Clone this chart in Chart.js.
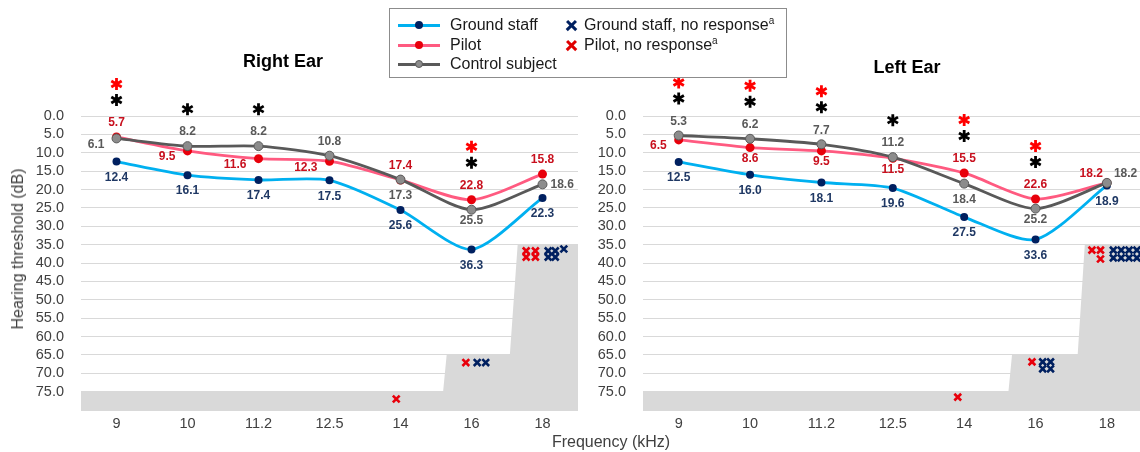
<!DOCTYPE html>
<html>
<head>
<meta charset="utf-8">
<script src="https://cdn.jsdelivr.net/npm/chart.js@4/dist/chart.umd.min.js"></script>
<style>
  html, body { margin: 0; padding: 0; background: #fff; overflow: hidden; }
  body { width: 1140px; height: 452px; position: relative; font-family: "Liberation Sans", Arial, sans-serif; }
  canvas { position: absolute; top: 0; }
  #cvRight { left: 0; }
  #cvLeft { left: 590px; }
  .ptitle { position: absolute; font-weight: bold; font-size: 18px; color: #000; transform: translate(-50%, -50%); white-space: nowrap; }
  .axtitle { position: absolute; font-size: 16px; color: #404040; white-space: nowrap; transform: translate(-50%, -50%); }
  #ytitle { transform: translate(-50%, -50%) rotate(-90deg); }
  #legend { position: absolute; left: 389px; top: 8px; width: 396px; height: 68px; border: 1px solid #8c8c8c; background: #fff; }
  #legend .ln { position: absolute; left: 8px; width: 42px; height: 2.5px; }
  #legend .dot { position: absolute; left: 25px; width: 8px; height: 8px; border-radius: 50%; box-sizing: border-box; }
  #legend .txt { position: absolute; font-size: 16px; line-height: 18px; color: #1a1a1a; white-space: nowrap; }
  #legend .txt sup { font-size: 10px; vertical-align: 6px; line-height: 0; }
  #legend .xm { position: absolute; left: 176px; width: 11px; height: 11px; }
  #legend .xm::before, #legend .xm::after { content: ""; position: absolute; left: -1px; top: 4px; width: 13px; height: 3.4px; background: currentColor; }
  #legend .xm::before { transform: rotate(45deg); }
  #legend .xm::after { transform: rotate(-45deg); }
</style>
</head>
<body>
<canvas id="cvRight" width="590" height="452"></canvas>
<canvas id="cvLeft" width="560" height="452"></canvas>

<div class="ptitle" style="left:283px; top:61px;">Right Ear</div>
<div class="ptitle" style="left:907px; top:67px;">Left Ear</div>
<div class="axtitle" id="ytitle" style="left:18px; top:249px;">Hearing threshold (dB)</div>
<div class="axtitle" style="left:611px; top:442px;">Frequency (kHz)</div>

<div id="legend">
  <span class="ln" style="top:15px; background:#00B0F0"></span>
  <span class="dot" style="top:12px; background:#002060"></span>
  <span class="txt" style="left:60px; top:7px;">Ground staff</span>
  <span class="ln" style="top:35px; background:#FF5A80"></span>
  <span class="dot" style="top:32px; background:#E8000B"></span>
  <span class="txt" style="left:60px; top:27px;">Pilot</span>
  <span class="ln" style="top:54px; background:#595959"></span>
  <span class="dot" style="top:51px; background:#8C8C8C; border:1px solid #595959"></span>
  <span class="txt" style="left:60px; top:46px;">Control subject</span>
  <span class="xm" style="top:11px; color:#002060"></span>
  <span class="txt" style="left:194px; top:7px;">Ground staff, no response<sup>a</sup></span>
  <span class="xm" style="top:31px; color:#E00000"></span>
  <span class="txt" style="left:194px; top:27px;">Pilot, no response<sup>a</sup></span>
</div>

<script>
// Test frequencies (kHz), one category each
const frequencies = ['9', '10', '11.2', '12.5', '14', '16', '18'];

// Mean hearing thresholds (dB), right ear
const rightGround  = [12.4, 16.1, 17.4, 17.5, 25.6, 36.3, 22.3];
const rightPilot   = [5.7, 9.5, 11.6, 12.3, 17.4, 22.8, 15.8];
const rightControl = [6.1, 8.2, 8.2, 10.8, 17.3, 25.5, 18.6];

// Mean hearing thresholds (dB), left ear
const leftGround  = [12.5, 16.0, 18.1, 19.6, 27.5, 33.6, 18.9];
const leftPilot   = [6.5, 8.6, 9.5, 11.5, 15.5, 22.6, 18.2];
const leftControl = [5.3, 6.2, 7.7, 11.2, 18.4, 25.2, 18.2];

// Significance markers per frequency (1 = asterisk shown)
const rightStarBlack = [1, 1, 1, 0, 0, 1, 0];
const rightStarRed   = [1, 0, 0, 0, 0, 1, 0];
const leftStarBlack  = [1, 1, 1, 1, 1, 1, 0];
const leftStarRed    = [1, 1, 1, 0, 1, 1, 0];

// Maximum audiometer output (dB), along the frequency index axis
const rightLimitX = [-0.5, 4.60, 4.65, 5.54, 5.65, 6.5];
const rightLimitY = [75, 75, 65, 65, 35, 35];
const leftLimitX  = [-0.5, 4.62, 4.67, 5.59, 5.69, 6.5];
const leftLimitY  = [75, 75, 65, 65, 35, 35];

// Subjects with no response, right ear
const rightPilotNoRespX  = [3.94, 4.92, 5.77, 5.90, 5.77, 5.90];
const rightPilotNoRespY  = [77.0, 67.1, 36.7, 36.7, 38.4, 38.4];
const rightGroundNoRespX = [5.08, 5.20, 6.08, 6.18, 6.30, 6.08, 6.18];
const rightGroundNoRespY = [67.1, 67.1, 36.7, 36.7, 36.2, 38.4, 38.4];

// Subjects with no response, left ear
const leftPilotNoRespX  = [3.91, 4.95, 5.79, 5.91, 5.91];
const leftPilotNoRespY  = [76.5, 66.9, 36.5, 36.5, 38.9];
const leftGroundNoRespX = [5.10, 5.21, 5.10, 5.21, 6.09, 6.20, 6.31, 6.42, 6.09, 6.20, 6.31, 6.42];
const leftGroundNoRespY = [66.9, 66.9, 68.8, 68.8, 36.5, 36.5, 36.5, 36.5, 38.6, 38.6, 38.6, 38.6];

// Value label placement: a = above, b = below, n = just below, l = left, r = right, lu / ru = up-left / up-right
const rightGroundPlace  = ['b', 'b', 'b', 'b', 'b', 'b', 'b'];
const rightPilotPlace   = ['a', 'l', 'l', 'l', 'a', 'a', 'a'];
const rightControlPlace = ['l', 'a', 'a', 'a', 'b', 'n', 'r'];
const leftGroundPlace   = ['b', 'b', 'b', 'b', 'b', 'b', 'b'];
const leftPilotPlace    = ['l', 'n', 'n', 'n', 'a', 'a', 'lu'];
const leftControlPlace  = ['a', 'a', 'a', 'a', 'b', 'n', 'ru'];

const FONT = '"Liberation Sans", Arial, sans-serif';
const C = {
  groundLine: '#00B0F0', groundDot: '#002060', groundText: '#1F3864',
  pilotLine: '#FF5A80', pilotDot: '#E8000B', pilotText: '#C8101E',
  controlLine: '#595959', controlDot: '#8C8C8C', controlText: '#595959',
  shade: '#D9D9D9', grid: '#D9D9D9', tick: '#404040'
};

function pts(xs, ys) { return xs.map((x, i) => ({ x: x, y: ys[i] })); }
function series(vals) { return vals.map((v, i) => ({ x: i, y: v })); }

function drawAsterisk(ctx, cx, cy, r, color) {
  ctx.save();
  ctx.strokeStyle = color;
  ctx.lineWidth = 2.8;
  ctx.beginPath();
  for (let k = 0; k < 3; k++) {
    const a = Math.PI / 2 + k * Math.PI / 3;
    ctx.moveTo(cx - r * Math.cos(a), cy - r * Math.sin(a));
    ctx.lineTo(cx + r * Math.cos(a), cy + r * Math.sin(a));
  }
  ctx.stroke();
  ctx.restore();
}

// Value labels and significance asterisks
const annotations = {
  id: 'annotations',
  afterDatasetsDraw(chart) {
    const cfg = chart.options.plugins.annotations;
    const { ctx } = chart;
    const xs = chart.scales.x, ys = chart.scales.y;
    ctx.save();
    ctx.font = 'bold 12px ' + FONT;
    ctx.textBaseline = 'middle';
    cfg.series.forEach(s => {
      s.values.forEach((v, i) => {
        const px = xs.getPixelForValue(i), py = ys.getPixelForValue(v);
        let tx = px, ty = py, align = 'center';
        switch (s.place[i]) {
          case 'a': ty = py - 14; break;
          case 'b': ty = py + 16; break;
          case 'n': ty = py + 11; break;
          case 'l': tx = px - 12; ty = py + 6; align = 'right'; break;
          case 'r': tx = px + 8; align = 'left'; break;
          case 'lu': tx = px - 4; ty = py - 9; align = 'right'; break;
          case 'ru': tx = px + 7; ty = py - 9; align = 'left'; break;
        }
        ctx.fillStyle = s.color;
        ctx.textAlign = align;
        ctx.fillText(v.toFixed(1), tx, ty);
      });
    });
    frequencies.forEach((f, i) => {
      const top = Math.min(...cfg.series.map(s => ys.getPixelForValue(s.values[i])));
      const px = xs.getPixelForValue(i);
      const yBlack = top - 37;
      if (cfg.starBlack[i]) drawAsterisk(ctx, px, yBlack, 6, '#000000');
      if (cfg.starRed[i]) drawAsterisk(ctx, px, yBlack - 16, 6, '#FF0000');
    });
    ctx.restore();
  }
};

function buildEar(canvasId, d, yWidth, padRight) {
  return new Chart(document.getElementById(canvasId), {
    type: 'line',
    data: {
      datasets: [
        { data: pts(d.nrGroundX, d.nrGroundY), showLine: false, pointStyle: 'crossRot',
          pointRadius: 4.8, pointBorderWidth: 2.6, borderColor: C.groundDot, order: 0 },
        { data: pts(d.nrPilotX, d.nrPilotY), showLine: false, pointStyle: 'crossRot',
          pointRadius: 4.8, pointBorderWidth: 2.6, borderColor: C.pilotDot, order: 0 },
        { data: series(d.control), borderColor: C.controlLine, borderWidth: 2.8, tension: 0.25,
          pointRadius: 4.5, pointBackgroundColor: C.controlDot, pointBorderColor: C.controlLine,
          pointBorderWidth: 1, order: 1 },
        { data: series(d.pilot), borderColor: C.pilotLine, borderWidth: 2.8, tension: 0.25,
          pointRadius: 4.5, pointBackgroundColor: C.pilotDot, pointBorderColor: C.pilotDot,
          pointBorderWidth: 0, order: 2 },
        { data: series(d.ground), borderColor: C.groundLine, borderWidth: 2.8, tension: 0.25,
          pointRadius: 4, pointBackgroundColor: C.groundDot, pointBorderColor: C.groundDot,
          pointBorderWidth: 0, order: 3 },
        { data: pts(d.limitX, d.limitY), borderWidth: 0, pointRadius: 0, tension: 0,
          backgroundColor: C.shade, fill: { value: 80 }, order: 10 }
      ]
    },
    options: {
      responsive: false,
      animation: false,
      events: [],
      layout: { padding: { top: 116, right: padRight, bottom: 0, left: 0 } },
      scales: {
        x: {
          type: 'linear', min: -0.5, max: 6.5,
          grid: { display: false }, border: { display: false },
          afterBuildTicks: s => { s.ticks = frequencies.map((f, i) => ({ value: i })); },
          afterFit: s => { s.height = 42; },
          ticks: { padding: -3, color: C.tick, font: { family: FONT, size: 14.5 },
                   maxRotation: 0, autoSkip: false,
                   callback: v => frequencies[Math.round(v)] }
        },
        y: {
          reverse: true, min: 0, max: 80,
          grid: { color: C.grid, lineWidth: 1, drawTicks: false },
          border: { display: false },
          afterFit: s => { s.width = yWidth; },
          ticks: { stepSize: 5, autoSkip: false, padding: 17, color: C.tick,
                   font: { family: FONT, size: 14.5 },
                   callback: v => (v === 80 ? '' : v.toFixed(1)) }
        }
      },
      plugins: {
        legend: { display: false },
        tooltip: { enabled: false },
        annotations: {
          series: [
            { values: d.ground, place: d.groundPlace, color: C.groundText },
            { values: d.pilot, place: d.pilotPlace, color: C.pilotText },
            { values: d.control, place: d.controlPlace, color: C.controlText }
          ],
          starBlack: d.starBlack,
          starRed: d.starRed
        }
      }
    },
    plugins: [annotations]
  });
}

buildEar('cvRight', {
  ground: rightGround, pilot: rightPilot, control: rightControl,
  groundPlace: rightGroundPlace, pilotPlace: rightPilotPlace, controlPlace: rightControlPlace,
  starBlack: rightStarBlack, starRed: rightStarRed,
  limitX: rightLimitX, limitY: rightLimitY,
  nrPilotX: rightPilotNoRespX, nrPilotY: rightPilotNoRespY,
  nrGroundX: rightGroundNoRespX, nrGroundY: rightGroundNoRespY
}, 81, 12);

buildEar('cvLeft', {
  ground: leftGround, pilot: leftPilot, control: leftControl,
  groundPlace: leftGroundPlace, pilotPlace: leftPilotPlace, controlPlace: leftControlPlace,
  starBlack: leftStarBlack, starRed: leftStarRed,
  limitX: leftLimitX, limitY: leftLimitY,
  nrPilotX: leftPilotNoRespX, nrPilotY: leftPilotNoRespY,
  nrGroundX: leftGroundNoRespX, nrGroundY: leftGroundNoRespY
}, 53, 7);
</script>
</body>
</html>
